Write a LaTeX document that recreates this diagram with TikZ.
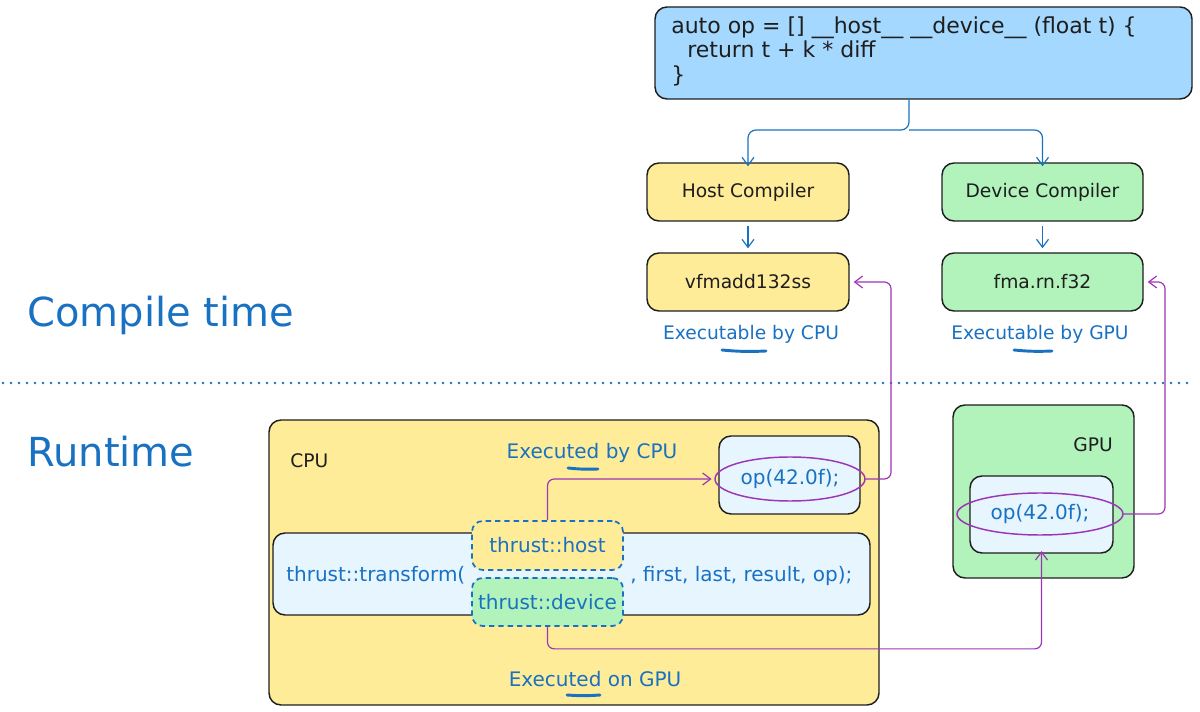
\documentclass[tikz,border=0pt]{standalone}
\usepackage{fontspec}
\setmainfont{DejaVu Sans}
\usetikzlibrary{arrows.meta,shapes.geometric}
\definecolor{cblue}{HTML}{1971C2}
\definecolor{cpurple}{HTML}{9C36B5}
\definecolor{fyellow}{HTML}{FFEC99}
\definecolor{fgreen}{HTML}{B2F2BB}
\definecolor{fblue}{HTML}{A5D8FF}
\definecolor{flight}{HTML}{E7F5FF}
\definecolor{ink}{HTML}{1E1E1E}
\begin{document}
\begin{tikzpicture}[x=0.75pt,y=-0.75pt,
  sz/.style 2 args={minimum width=#1*0.75pt, minimum height=#2*0.75pt},
  box/.style={draw=ink, line width=1.1pt, rounded corners=9pt, inner sep=0pt, text=ink, font=\fontsize{14}{17}\selectfont},
  dbox/.style={draw=cblue, dashed, dash pattern=on 4pt off 3pt, line width=1.3pt, rounded corners=8pt, inner sep=0pt, text=cblue, font=\fontsize{15}{18}\selectfont},
  barrow/.style={draw=cblue, line width=0.9pt, -{Straight Barb[length=6pt,width=9pt]}, rounded corners=6pt},
  parrow/.style={draw=cpurple, line width=0.9pt, -{Straight Barb[length=6pt,width=9pt]}, rounded corners=5pt},
  oval/.style={ellipse, draw=cpurple, line width=1.1pt, inner sep=0pt, text=cblue, font=\fontsize{15}{18}\selectfont},
  btext/.style={text=cblue, inner sep=0pt, font=\fontsize{15}{18}\selectfont},
  ktext/.style={text=ink, inner sep=0pt, font=\fontsize{14}{17}\selectfont},
  htext/.style={text=cblue, inner sep=0pt, font=\fontsize{30}{36}\selectfont},
  uline/.style={draw=cblue, line width=2.2pt, line cap=round}
]
\useasboundingbox (0,0) rectangle (1200,712);

% section titles and divider
\node[htext, anchor=west] (tcompile) at (27,315) {Compile time};
\node[htext, anchor=west] (truntime) at (27,452) {Runtime};
\draw[cblue, line width=2pt, line cap=round, dash pattern=on 0pt off 6pt] (3,383) -- (1192,383);

% compile time
\node[box, fill=fblue, sz={537}{92}] (code) at (923.5,53) {};
\node[ktext, anchor=west, align=left, font=\fontsize{16.5}{18.4}\selectfont] (codetext) at (671,51)
  {auto op = [] \_\_host\_\_ \_\_device\_\_ (float t) \{\\\hspace*{12pt}return t + k * diff\\\}};

\node[box, fill=fyellow, sz={202}{58}] (host) at (748,192) {Host Compiler};
\node[box, fill=fgreen, sz={201}{58}] (dev) at (1042.5,192) {Device Compiler};
\node[box, fill=fyellow, sz={202}{58}] (vf) at (748,282) {vfmadd132ss};
\node[box, fill=fgreen, sz={201}{58}] (fma) at (1042.5,282) {fma.rn.f32};

\coordinate (split) at (909,130);
\draw[barrow] (split |- code.south) -- (split) -| ([yshift=-3pt]host.north);
\draw[barrow] (split) -| ([yshift=-3pt]dev.north);
\draw[barrow, shorten <=3pt, shorten >=3pt] (host.south) -- (vf.north);
\draw[barrow, shorten <=3pt, shorten >=3pt] (dev.south) -- (fma.north);

\node[btext, font=\fontsize{14}{17}\selectfont] (lcpu) at (751,334) {Executable by CPU};
\draw[uline] (722,350) to[bend right=4] (766,351);
\node[btext, font=\fontsize{14}{17}\selectfont] (lgpu) at (1040,334) {Executable by GPU};
\draw[uline] (1014,350) to[bend right=4] (1052,351);

% runtime: CPU
\node[box, fill=fyellow, sz={610}{285}] (cpu) at (574,562.5) {};
\node[ktext, anchor=west] (cpulabel) at (290,461) {CPU};
\node[box, fill=flight, sz={141}{78}] (opcpu) at (789.5,475) {};
\node[oval, sz={150}{44}] (ecpu) at (790,479) {op(42.0f);};

\node[box, fill=flight, sz={597}{82}] (bar) at (571.5,574) {};
\node[btext, anchor=west] (ttrans) at (286,575) {thrust::transform(};
\node[btext, anchor=west] (targs) at (630,576) {, first, last, result, op);};
\node[dbox, fill=fyellow, sz={151}{49}] (thost) at (547.5,545.5) {thrust::host};
\node[dbox, fill=fgreen, sz={151}{48}] (tdev) at (547.5,602) {thrust::device};

\node[btext] (lexcpu) at (592,453) {Executed by CPU};
\draw[uline] (568,468) to[bend right=4] (598,469);
\node[btext] (lexgpu) at (595,679) {Executed on GPU};
\draw[uline] (567,695) to[bend right=4] (600,695);

% runtime: GPU
\node[box, fill=fgreen, sz={181}{173}] (gpu) at (1043.5,491.5) {};
\node[ktext, anchor=east] (gpulabel) at (1113,445) {GPU};
\node[box, fill=flight, sz={143}{77}] (opgpu) at (1041.5,514.5) {};
\node[oval, sz={166}{42}] (egpu) at (1040,514) {op(42.0f);};

% purple connectors
\draw[parrow] (thost.north) |- ([xshift=-2pt]ecpu.west);
\draw[parrow] (tdev.south) -- ++(0,22) -| ([yshift=2pt]opgpu.south);
\coordinate (c1) at (891,282);
\draw[parrow, shorten >=3pt] (ecpu.east) -| (c1) -- (vf.east);
\coordinate (c2) at (1165,282);
\draw[parrow, shorten >=3pt] (egpu.east) -| (c2) -- (fma.east);
\end{tikzpicture}
\end{document}
